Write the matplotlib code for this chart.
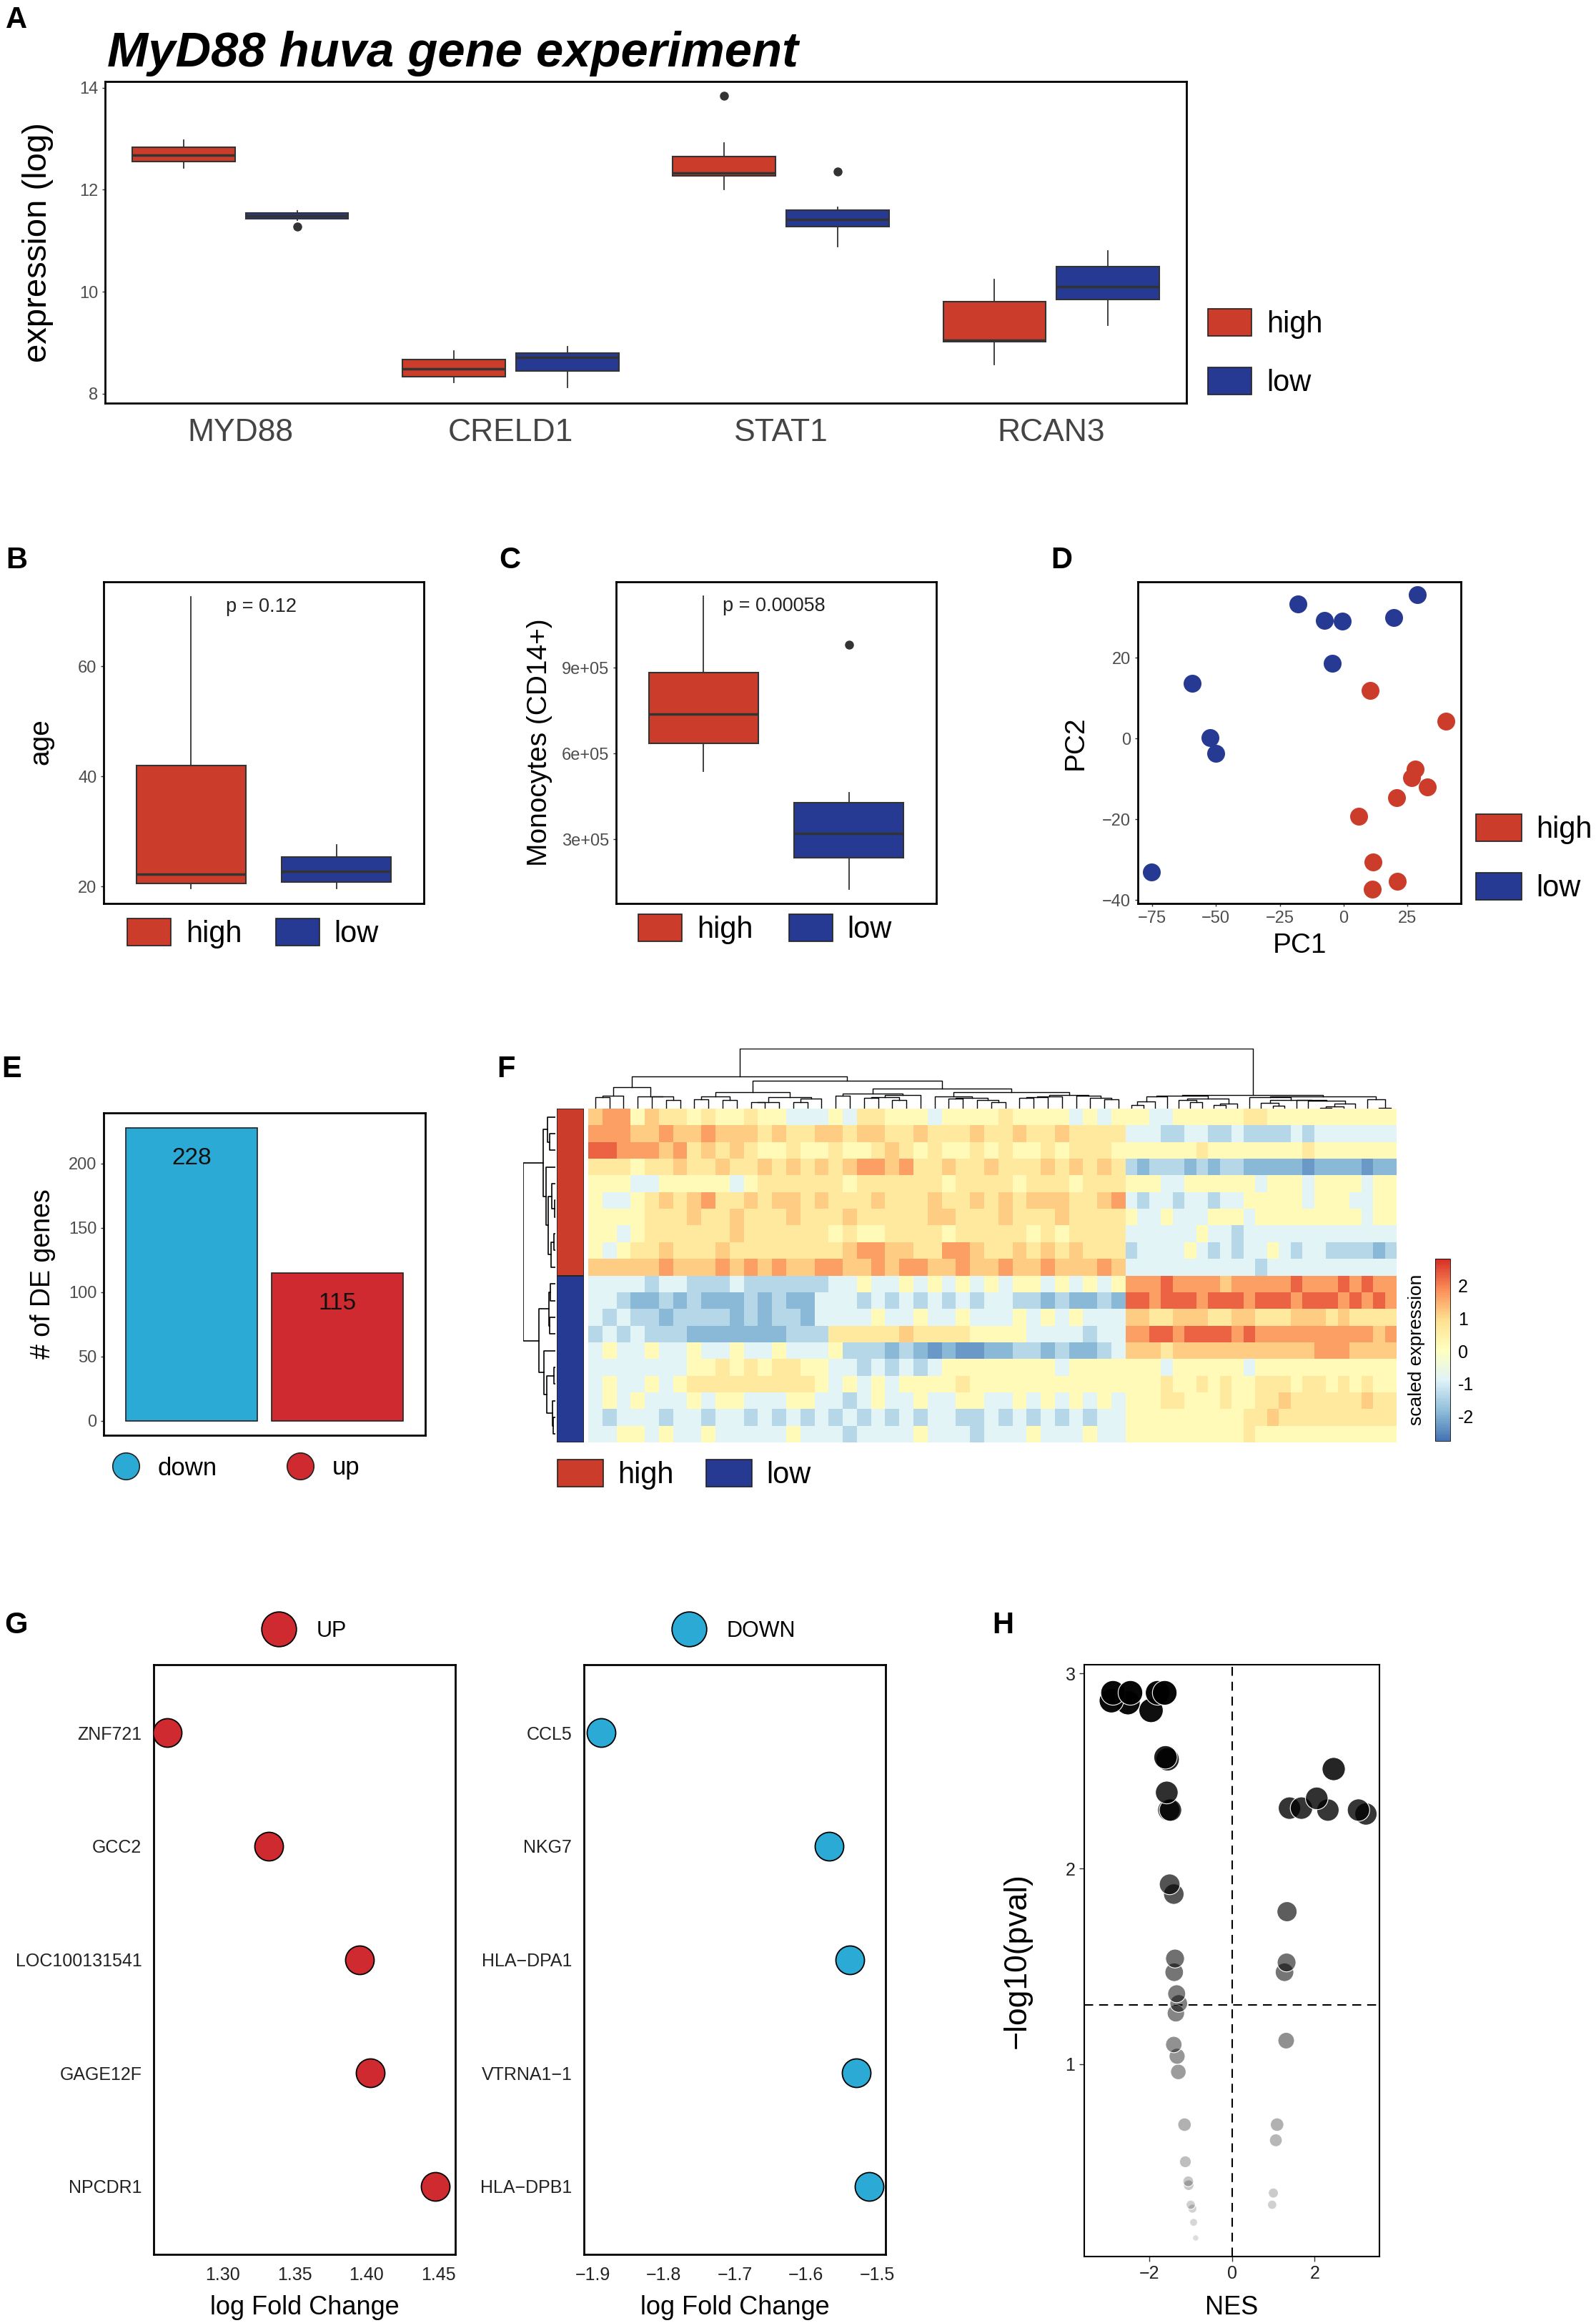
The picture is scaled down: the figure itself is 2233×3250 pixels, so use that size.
import numpy as np
import matplotlib
matplotlib.use('Agg')
import matplotlib.pyplot as plt
from matplotlib.patches import Patch
from matplotlib.lines import Line2D
from matplotlib.colors import LinearSegmentedColormap, Normalize

plt.rcParams['font.family'] = ['Liberation Sans', 'DejaVu Sans']

# ── Canvas (pixels) and colours ───────────────────────────────────────────────
W, H = 2233, 3250
RED, BLUE = '#cb3d2a', '#263a93'
UP_RED, DOWN_CYAN = '#cf2a2f', '#2aaad5'
EDGE = '#333333'
TICK = '#4d4d4d'

# ── A: expression boxplots (whislo, q1, median, q3, whishi) ───────────────────
genes_a = ['MYD88', 'CRELD1', 'STAT1', 'RCAN3']
high_a = [[12.43, 12.55, 12.67, 12.83, 12.97],
          [8.22, 8.33, 8.49, 8.67, 8.84],
          [12.00, 12.27, 12.33, 12.65, 12.91],
          [8.57, 9.02, 9.05, 9.81, 10.24]]
low_a = [[11.40, 11.43, 11.48, 11.54, 11.59],
         [8.12, 8.44, 8.71, 8.80, 8.92],
         [10.88, 11.28, 11.42, 11.60, 11.66],
         [9.34, 9.84, 10.10, 10.49, 10.80]]
high_a_out = [[], [], [13.84], []]
low_a_out = [[11.28], [], [12.35], []]

# ── B / C: age and monocytes ──────────────────────────────────────────────────
age_high = [19.6, 20.6, 22.2, 42.0, 72.7]
age_low = [19.6, 20.8, 22.7, 25.4, 27.6]
mono_high = [539e3, 636e3, 737e3, 882e3, 1149e3]
mono_low = [126e3, 236e3, 320e3, 427e3, 464e3]
mono_low_out = [979e3]

# ── D: PCA ────────────────────────────────────────────────────────────────────
pc1_high = [10.4, 40.0, 28.0, 26.8, 32.8, 20.8, 6.0, 11.6, 21.2, 11.2]
pc2_high = [12.0, 4.3, -7.5, -9.6, -12.0, -14.6, -19.2, -30.6, -35.4, -37.2]
pc1_low = [-18.0, -7.6, -0.4, 19.6, 28.8, -4.4, -59.2, -52.4, -50.0, -75.2]
pc2_low = [33.4, 29.3, 29.1, 29.9, 35.7, 18.7, 13.6, 0.2, -3.6, -33.0]

# ── E: DE gene counts ─────────────────────────────────────────────────────────
de_dirs = ['down', 'up']
de_counts = [228, 115]

# ── F: heatmap, read as blocks of genes (left: 38 blocks x 6 genes, right: 23 x 5)
level_values = {'0': -2.6, '1': -2.3, '2': -1.9, '3': -1.4, '4': -0.85,
                '5': 0.15, '6': 0.7, '7': 1.2, '8': 1.7, '9': 2.3}
heat_rows = [
    "78857 66565 56554 44546 65554 55556 55554 545 | 55445 55555 66555 55555 555",
    "88877 87787 77676 67767 76676 66766 76676 666 | 44433 44334 33334 34444 444",
    "99888 78676 76556 55655 67656 55656 55656 665 | 55555 56555 55555 65555 555",
    "66656 67667 66767 67678 87866 76676 66767 676 | 32333 23233 22222 12222 122",
    "55544 55555 45666 66656 66666 56666 56665 666 | 55544 55555 54555 45555 455",
    "54456 76786 67677 67666 76667 66767 67776 678 | 43443 44344 55555 45554 455",
    "55556 66766 76667 66676 66667 76667 66676 666 | 54454 44555 45555 55555 455",
    "55456 66666 76666 66565 56666 56666 65656 666 | 44444 45443 44444 44444 444",
    "54566 76667 66666 66678 87766 88766 76767 666 | 34444 54343 44543 44333 323",
    "77777 87778 78787 78877 87887 78778 77877 787 | 44444 44444 43444 44444 444",
    "44443 44333 43333 33445 44545 45454 55454 545 | 88898 88878 88889 88898 988",
    "44322 32322 23232 24443 43434 34344 33232 232 | 99899 98999 89998 99989 898",
    "43433 23333 23233 24444 54454 45444 54545 444 | 77667 77667 76667 77676 666",
    "34343 33222 22223 33666 66766 66555 54444 344 | 88998 99998 98888 88888 878",
    "45445 44544 54454 44533 32321 21122 33232 234 | 77767 77777 77777 78887 777",
    "44444 44556 56566 55443 43434 55555 55545 555 | 55545 55555 45555 55555 555",
    "45445 45666 66666 65454 54555 56555 55555 555 | 55565 56565 56665 66565 655",
    "45454 44545 54445 54434 54454 45544 54545 454 | 55566 55565 56676 66666 766",
    "43444 34434 43434 34343 43434 43343 43434 344 | 55555 55555 66766 66666 666",
    "44554 54454 44445 44434 44454 44344 45444 544 | 55555 55555 65555 55555 555",
]
row_groups = ['high', 'low']
row_group_sizes = [10, 10]
genes_per_block = (6, 5)

# ── G: top genes ──────────────────────────────────────────────────────────────
up_genes = ['ZNF721', 'GCC2', 'LOC100131541', 'GAGE12F', 'NPCDR1']
up_lfc = [1.2617, 1.3320, 1.3953, 1.4027, 1.4475]
down_genes = ['CCL5', 'NKG7', 'HLA\u2212DPA1', 'VTRNA1\u22121', 'HLA\u2212DPB1']
down_lfc = [-1.888, -1.567, -1.538, -1.529, -1.511]

# ── H: GSEA volcano ───────────────────────────────────────────────────────────
nes = [-2.92, -2.88, -2.52, -2.46, -1.96, -1.80, -1.63, -1.61, -1.56, -1.58,
       -1.53, -1.49, -1.51, -1.41, -1.38, -1.40, -1.34, -1.29, -1.36, -1.41,
       -1.33, -1.30, -1.15, -1.13, -1.06, -1.05, -1.00, -0.96, -0.93, -0.88,
       2.46, 2.05, 1.39, 1.68, 2.32, 3.06, 3.24, 1.33, 1.32, 1.27, 1.31,
       1.09, 1.06, 1.00, 0.97]
neglogp = [2.86, 2.90, 2.85, 2.90, 2.81, 2.90, 2.90, 2.57, 2.56, 2.39,
           2.30, 2.30, 1.92, 1.87, 1.54, 1.47, 1.36, 1.31, 1.26, 1.10,
           1.04, 0.96, 0.69, 0.50, 0.40, 0.38, 0.28, 0.26, 0.19, 0.11,
           2.51, 2.36, 2.31, 2.31, 2.30, 2.30, 2.28, 1.78, 1.52, 1.47, 1.12,
           0.69, 0.61, 0.34, 0.28]
P_CUT = 0.05

# ── Helpers ───────────────────────────────────────────────────────────────────
fig = plt.figure(figsize=(W / 100, H / 100), dpi=100)


def fx(x):
    return x / W


def fy(y):
    return 1 - y / H


def add_ax(x0, y0, x1, y1):
    return fig.add_axes([x0 / W, 1 - y1 / H, (x1 - x0) / W, (y1 - y0) / H])


def style(ax, lw=2.0, labelsize=17):
    for s in ax.spines.values():
        s.set_linewidth(lw)
        s.set_color('black')
    ax.tick_params(colors=EDGE, labelcolor=TICK, length=3, width=1,
                   labelsize=labelsize, pad=4)


def stats(vals, fliers=()):
    lo, q1, med, q3, hi = vals
    return dict(whislo=lo, q1=q1, med=med, q3=q3, whishi=hi, fliers=list(fliers))


def boxes(ax, st, positions, color, width):
    ax.bxp(st, positions=positions, widths=width, patch_artist=True,
           showcaps=False, manage_ticks=False,
           boxprops=dict(facecolor=color, edgecolor=EDGE, linewidth=1.5),
           medianprops=dict(color=EDGE, linewidth=2.5),
           whiskerprops=dict(color=EDGE, linewidth=1.3),
           flierprops=dict(marker='o', markerfacecolor=EDGE,
                           markeredgecolor=EDGE, markersize=8))


def label(x, y, s, size, rot=0, **kw):
    fig.text(fx(x), fy(y), s, fontsize=size, rotation=rot,
             ha='center', va='center', **kw)


def panel(x, y, s):
    fig.text(fx(x), fy(y), s, fontsize=30, fontweight='bold', va='top', ha='left')


def square_legend(x, y, ncol, fs, colspace=1.1, spacing=0.95, hl=1.47, hh=1.03):
    h = [Patch(facecolor=RED, edgecolor='#222222', linewidth=1.2),
         Patch(facecolor=BLUE, edgecolor='#222222', linewidth=1.2)]
    fig.legend(h, ['high', 'low'], loc='center left', bbox_to_anchor=(fx(x), fy(y)),
               ncol=ncol, frameon=False, fontsize=fs, handlelength=hl,
               handleheight=hh, handletextpad=0.5, columnspacing=colspace,
               labelspacing=spacing, borderpad=0, borderaxespad=0)


def chain_linkage(X, w):
    # complete linkage (euclidean), only neighbouring clusters may merge
    w = np.asarray(w, dtype=float)
    D = np.sqrt(((X[:, None, :] - X[None, :, :]) ** 2).sum(-1))
    members = [[i] for i in range(len(X))]
    pos = list(np.cumsum(w) - w / 2.0)
    hgt = [0.0] * len(X)
    links = []
    while len(members) > 1:
        d = [D[np.ix_(members[k], members[k + 1])].max()
             for k in range(len(members) - 1)]
        k = int(np.argmin(d))
        h = max(d[k], hgt[k], hgt[k + 1])
        links.append((pos[k], pos[k + 1], hgt[k], hgt[k + 1], h))
        members[k] = members[k] + members.pop(k + 1)
        pos[k] = (pos[k] + pos.pop(k + 1)) / 2.0
        hgt[k] = h
        hgt.pop(k + 1)
    return links


# ── Panel A ───────────────────────────────────────────────────────────────────
fig.text(fx(150), fy(93), 'MyD88 huva gene experiment', fontsize=49.5,
         fontweight='bold', fontstyle='italic', va='baseline', ha='left')
panel(8, 8, 'A')
axA = add_ax(147, 114, 1660, 564)
xa = np.arange(1, len(genes_a) + 1)
boxes(axA, [stats(v, o) for v, o in zip(high_a, high_a_out)], xa - 0.21, RED, 0.38)
boxes(axA, [stats(v, o) for v, o in zip(low_a, low_a_out)], xa + 0.21, BLUE, 0.38)
axA.set_xlim(0.5, 4.5)
axA.set_ylim(7.815, 14.12)
style(axA)
axA.set_xticks(xa)
axA.set_xticklabels(genes_a, fontsize=32, color='#444444')
axA.tick_params(axis='x', length=0, pad=15)
axA.set_yticks([8, 10, 12, 14])
label(53, 339, 'expression (log)', 34, rot=90)
square_legend(1690, 494, 1, 30)

# ── Panel B ───────────────────────────────────────────────────────────────────
panel(8, 764, 'B')
axB = add_ax(145, 814, 593, 1264)
boxes(axB, [stats(age_high)], [1], RED, 0.75)
boxes(axB, [stats(age_low)], [2], BLUE, 0.75)
axB.set_xlim(0.4, 2.6)
axB.set_ylim(16.9, 75.4)
style(axB)
axB.set_xticks([])
axB.set_yticks([20, 40, 60])
axB.text(1.24, 70.9, 'p = 0.12', fontsize=19.5, ha='left', va='center', color='#222222')
label(57, 1038, 'age', 28, rot=90)
square_legend(178, 1306, 2, 30, colspace=1.13)

# ── Panel C ───────────────────────────────────────────────────────────────────
panel(698, 764, 'C')
axC = add_ax(862, 814, 1310, 1264)
boxes(axC, [stats(mono_high)], [1], RED, 0.75)
boxes(axC, [stats(mono_low, mono_low_out)], [2], BLUE, 0.75)
axC.set_xlim(0.4, 2.6)
axC.set_ylim(76e3, 1.2e6)
style(axC)
axC.set_xticks([])
axC.set_yticks([3e5, 6e5, 9e5])
axC.set_yticklabels(['3e+05', '6e+05', '9e+05'])
axC.text(1.13, 1.114e6, 'p = 0.00058', fontsize=19.5, ha='left', va='center', color='#222222')
label(755, 1039, 'Monocytes (CD14+)', 28, rot=90)
square_legend(893, 1300, 2, 30, colspace=1.2)

# ── Panel D ───────────────────────────────────────────────────────────────────
panel(1470, 764, 'D')
axD = add_ax(1592, 814, 2044, 1264)
axD.scatter(pc1_high, pc2_high, s=324, color=RED, linewidths=0)
axD.scatter(pc1_low, pc2_low, s=324, color=BLUE, linewidths=0)
axD.set_xlim(-80.6, 46)
axD.set_ylim(-40.8, 38.8)
style(axD)
axD.set_xticks([-75, -50, -25, 0, 25])
axD.set_yticks([-40, -20, 0, 20])
label(1505, 1039, 'PC2', 28, rot=90)
label(1818, 1323, 'PC1', 28)
square_legend(2065, 1201, 1, 30, hl=1.53)

# ── Panel E ───────────────────────────────────────────────────────────────────
panel(2, 1476, 'E')
axE = add_ax(145, 1557, 595, 2008)
xe = np.arange(1, len(de_dirs) + 1)
axE.bar(xe, de_counts, width=0.9, color=[DOWN_CYAN, UP_RED],
        edgecolor='#222222', linewidth=1.2)
for x, v in zip(xe, de_counts):
    axE.text(x, v - 24, str(v), ha='center', va='center', fontsize=24, color='#111111')
axE.set_xlim(0.4, 2.6)
axE.set_ylim(-11.4, 239.4)
style(axE)
axE.set_xticks([])
axE.set_yticks([0, 50, 100, 150, 200])
label(60, 1782, '# of DE genes', 27, rot=90)
eh = [Line2D([], [], ls='', marker='o', markersize=27, markerfacecolor=c,
             markeredgecolor='#222222', markeredgewidth=1.2) for c in (DOWN_CYAN, UP_RED)]
fig.legend(eh, de_dirs, loc='center left', bbox_to_anchor=(fx(159), fy(2054)), ncol=2,
           frameon=False, fontsize=25, handlelength=1.0, handletextpad=0.78,
           columnspacing=2.85, borderpad=0, borderaxespad=0)

# ── Panel F: heatmap with dendrograms ─────────────────────────────────────────
panel(695, 1476, 'F')
blocks = [r.replace(' ', '').split('|') for r in heat_rows]
n_left, n_right = len(blocks[0][0]), len(blocks[0][1])
for l, r in blocks:
    assert len(l) == n_left and len(r) == n_right
M = np.array([[level_values[c] for c in l + r] for l, r in blocks])
block_w = np.array([genes_per_block[0]] * n_left + [genes_per_block[1]] * n_right)
x_edges = np.concatenate([[0], np.cumsum(block_w)])
y_edges = np.arange(M.shape[0] + 1)

ph_colors = ['#4575B4', '#91BFDB', '#E0F3F8', '#FFFFBF', '#FEE090', '#FC8D59', '#D73027']
cmap = LinearSegmentedColormap.from_list('ph', ph_colors, N=100)
norm = Normalize(vmin=-2.76, vmax=2.83)

axHm = add_ax(823, 1551, 1954, 2018)
mesh = axHm.pcolormesh(x_edges, y_edges, M, cmap=cmap, norm=norm)
axHm.set_xlim(0, x_edges[-1])
axHm.set_ylim(M.shape[0], 0)
axHm.axis('off')

# column dendrogram
col_links = chain_linkage(M.T, block_w)
axCd = add_ax(823, 1467, 1954, 1551)
for x1, x2, h1, h2, h in col_links:
    axCd.plot([x1, x1, x2, x2], [h1, h, h, h2], color='black', lw=1.0)
c_heights = [l[4] for l in col_links]
axCd.set_xlim(0, x_edges[-1])
axCd.set_ylim(0.85 * min(c_heights), max(c_heights))
axCd.axis('off')

# row dendrogram
row_links = chain_linkage(M * np.sqrt(block_w)[None, :], np.ones(M.shape[0]))
axRd = add_ax(732, 1551, 777, 2018)
for y1, y2, h1, h2, h in row_links:
    axRd.plot([h1, h, h, h2], [y1, y1, y2, y2], color='black', lw=1.2)
r_heights = [l[4] for l in row_links]
axRd.set_xlim(max(r_heights), 0.85 * min(r_heights))
axRd.set_ylim(M.shape[0], 0)
axRd.axis('off')

# group annotation bar
axAn = add_ax(779, 1551, 817, 2018)
starts = np.concatenate([[0], np.cumsum(row_group_sizes)[:-1]])
for st, n, c in zip(starts, row_group_sizes, (RED, BLUE)):
    axAn.bar(0, n, bottom=st, width=1, color=c, edgecolor='#222222', linewidth=1.2)
axAn.set_xlim(-0.5, 0.5)
axAn.set_ylim(M.shape[0], 0)
axAn.axis('off')

cax = add_ax(2008, 1761, 2029, 2016)
cb = fig.colorbar(mesh, cax=cax, ticks=[-2, -1, 0, 1, 2])
cb.outline.set_linewidth(0.6)
cax.tick_params(labelsize=18, length=0, pad=8)
cax.set_yticklabels(['-2', '-1', '0', '1', '2'])
cax.yaxis.set_label_position('left')
cb.set_label('scaled expression', fontsize=19, labelpad=10)
square_legend(780, 2063, 2, 30, colspace=1.08, hl=1.53)

# ── Panel G ───────────────────────────────────────────────────────────────────
panel(6, 2254, 'G')
for (x0, x1), genes, lfc, col, xlim, ticks, name, lx in [
        ((215, 637), up_genes, up_lfc, UP_RED, (1.2523, 1.4615),
         [1.30, 1.35, 1.40, 1.45], 'UP', 366),
        ((817, 1239), down_genes, down_lfc, DOWN_CYAN, (-1.9125, -1.488),
         [-1.9, -1.8, -1.7, -1.6, -1.5], 'DOWN', 940)]:
    ax = add_ax(x0, 2329, x1, 3154)
    yg = np.arange(1, len(genes) + 1)
    ax.scatter(lfc, yg, s=830, color=col, edgecolors='black', linewidths=1.3, zorder=3)
    ax.set_xlim(*xlim)
    ax.set_ylim(len(genes) + 0.6, 0.4)
    style(ax, lw=2.0, labelsize=18)
    ax.set_yticks(yg)
    ax.set_yticklabels(genes)
    ax.set_xticks(ticks)
    if ticks[0] > 0:
        ax.set_xticklabels([f'{t:.2f}' for t in ticks])
    ax.tick_params(length=0, pad=12, labelcolor='#222222')
    label((x0 + x1) / 2, 3228, 'log Fold Change', 26)
    fig.legend([Line2D([], [], ls='', marker='o', markersize=35, markerfacecolor=col,
                       markeredgecolor='black', markeredgewidth=1.3)], [name],
               loc='center left', bbox_to_anchor=(fx(lx), fy(2282)), frameon=False,
               fontsize=22, handlelength=1.6, handletextpad=0.9,
               borderpad=0, borderaxespad=0)

# ── Panel H ───────────────────────────────────────────────────────────────────
panel(1388, 2254, 'H')
axV = add_ax(1517, 2329, 1930, 3157)
order = np.argsort(neglogp)
xv = np.asarray(nes)[order]
yv = np.asarray(neglogp)[order]
alpha = np.clip(0.1 + 0.3 * yv, 0, 1)
rgba = np.column_stack([np.zeros((len(yv), 3)), alpha])
axV.scatter(xv, yv, s=251 * yv ** 0.84, c=rgba, edgecolors='white',
            linewidths=0.8, zorder=3)
axV.axhline(-np.log10(P_CUT), color='black', lw=1.5, ls=(0, (6, 4)), zorder=2)
axV.axvline(0, color='black', lw=1.5, ls=(0, (6, 4)), zorder=2)
axV.set_xlim(-3.577, 3.567)
axV.set_ylim(0.015, 3.044)
style(axV, lw=1.5, labelsize=18)
axV.tick_params(labelcolor='#222222', length=5)
axV.set_xticks([-2, 0, 2])
axV.set_yticks([1, 2, 3])
label(1423, 2743, '\u2212log10(pval)', 32, rot=90)
label(1723, 3229, 'NES', 26)

fig.savefig('out.png', dpi=100)
